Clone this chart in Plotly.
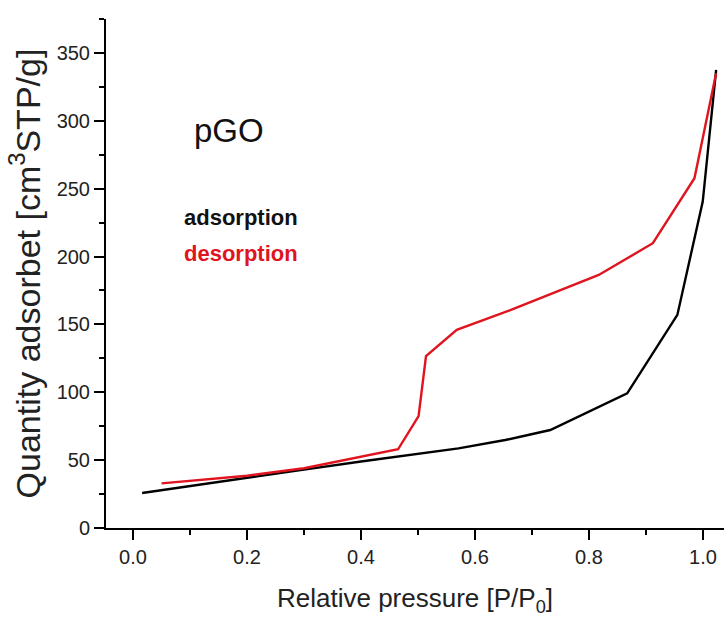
import plotly.graph_objects as go

ads_x = [0.016, 0.10, 0.20, 0.30, 0.40, 0.571, 0.653, 0.732, 0.867, 0.955, 0.9995, 1.023]
ads_y = [25.8, 31.0, 37.0, 43.0, 49.0, 58.7, 64.8, 72.2, 99.2, 157.0, 240.5, 337.5]

des_x = [0.050, 0.20, 0.30, 0.402, 0.465, 0.501, 0.514, 0.568, 0.662, 0.817, 0.912, 0.985, 1.023]
des_y = [32.9, 38.5, 44.0, 52.5, 58.0, 82.5, 126.7, 146.0, 160.6, 186.4, 209.8, 257.7, 335.0]

x_ticks = [0.0, 0.2, 0.4, 0.6, 0.8, 1.0]
x_labels = ["0.0", "0.2", "0.4", "0.6", "0.8", "1.0"]
y_ticks = [0, 50, 100, 150, 200, 250, 300, 350]

FONT = "Arial, 'Liberation Sans', sans-serif"

fig = go.Figure()
fig.add_trace(go.Scatter(x=ads_x, y=ads_y, mode="lines",
                         line=dict(color="black", width=2.4), showlegend=False))
fig.add_trace(go.Scatter(x=des_x, y=des_y, mode="lines",
                         line=dict(color="#e0141e", width=2.4), showlegend=False))

fig.add_annotation(x=0.103, y=293, text="pGO", showarrow=False, xanchor="left",
                   yanchor="middle", font=dict(size=33, color="#111", family=FONT))
fig.add_annotation(x=0.086, y=228.4, text="<b>adsorption</b>", showarrow=False, xanchor="left",
                   yanchor="middle", font=dict(size=22, color="#111", family=FONT))
fig.add_annotation(x=0.086, y=202.6, text="<b>desorption</b>", showarrow=False, xanchor="left",
                   yanchor="middle", font=dict(size=22, color="#e0141e", family=FONT))

fig.update_layout(
    width=724, height=619,
    margin=dict(l=106, r=0, t=19, b=91),
    paper_bgcolor="white", plot_bgcolor="white",
    font=dict(family=FONT, color="#222"),
    xaxis=dict(range=[-0.0474, 1.0368], tickvals=x_ticks, ticktext=x_labels,
               showline=True, linecolor="black", linewidth=2, ticks="outside", ticklen=10, tickwidth=2,
               tickcolor="black", showgrid=False, zeroline=False,
               tickfont=dict(size=20, color="#222"),
               minor=dict(dtick=0.1, tick0=0, ticks="outside", ticklen=5, tickwidth=2, tickcolor="black"),
               title=dict(text="Relative pressure [P/P<sub>0</sub>]", font=dict(size=26, color="#222"), standoff=22)),
    yaxis=dict(range=[0, 375], tickvals=y_ticks,
               showline=True, linecolor="black", linewidth=2, ticks="outside", ticklen=10, tickwidth=2,
               tickcolor="black", showgrid=False, zeroline=False,
               tickfont=dict(size=20, color="#222"),
               minor=dict(dtick=25, tick0=0, ticks="outside", ticklen=5, tickwidth=2, tickcolor="black"),
               title=dict(text="Quantity adsorbet [cm<sup>3</sup>STP/g]", font=dict(size=34, color="#222"), standoff=6)),
)

fig.write_html("out.html")
